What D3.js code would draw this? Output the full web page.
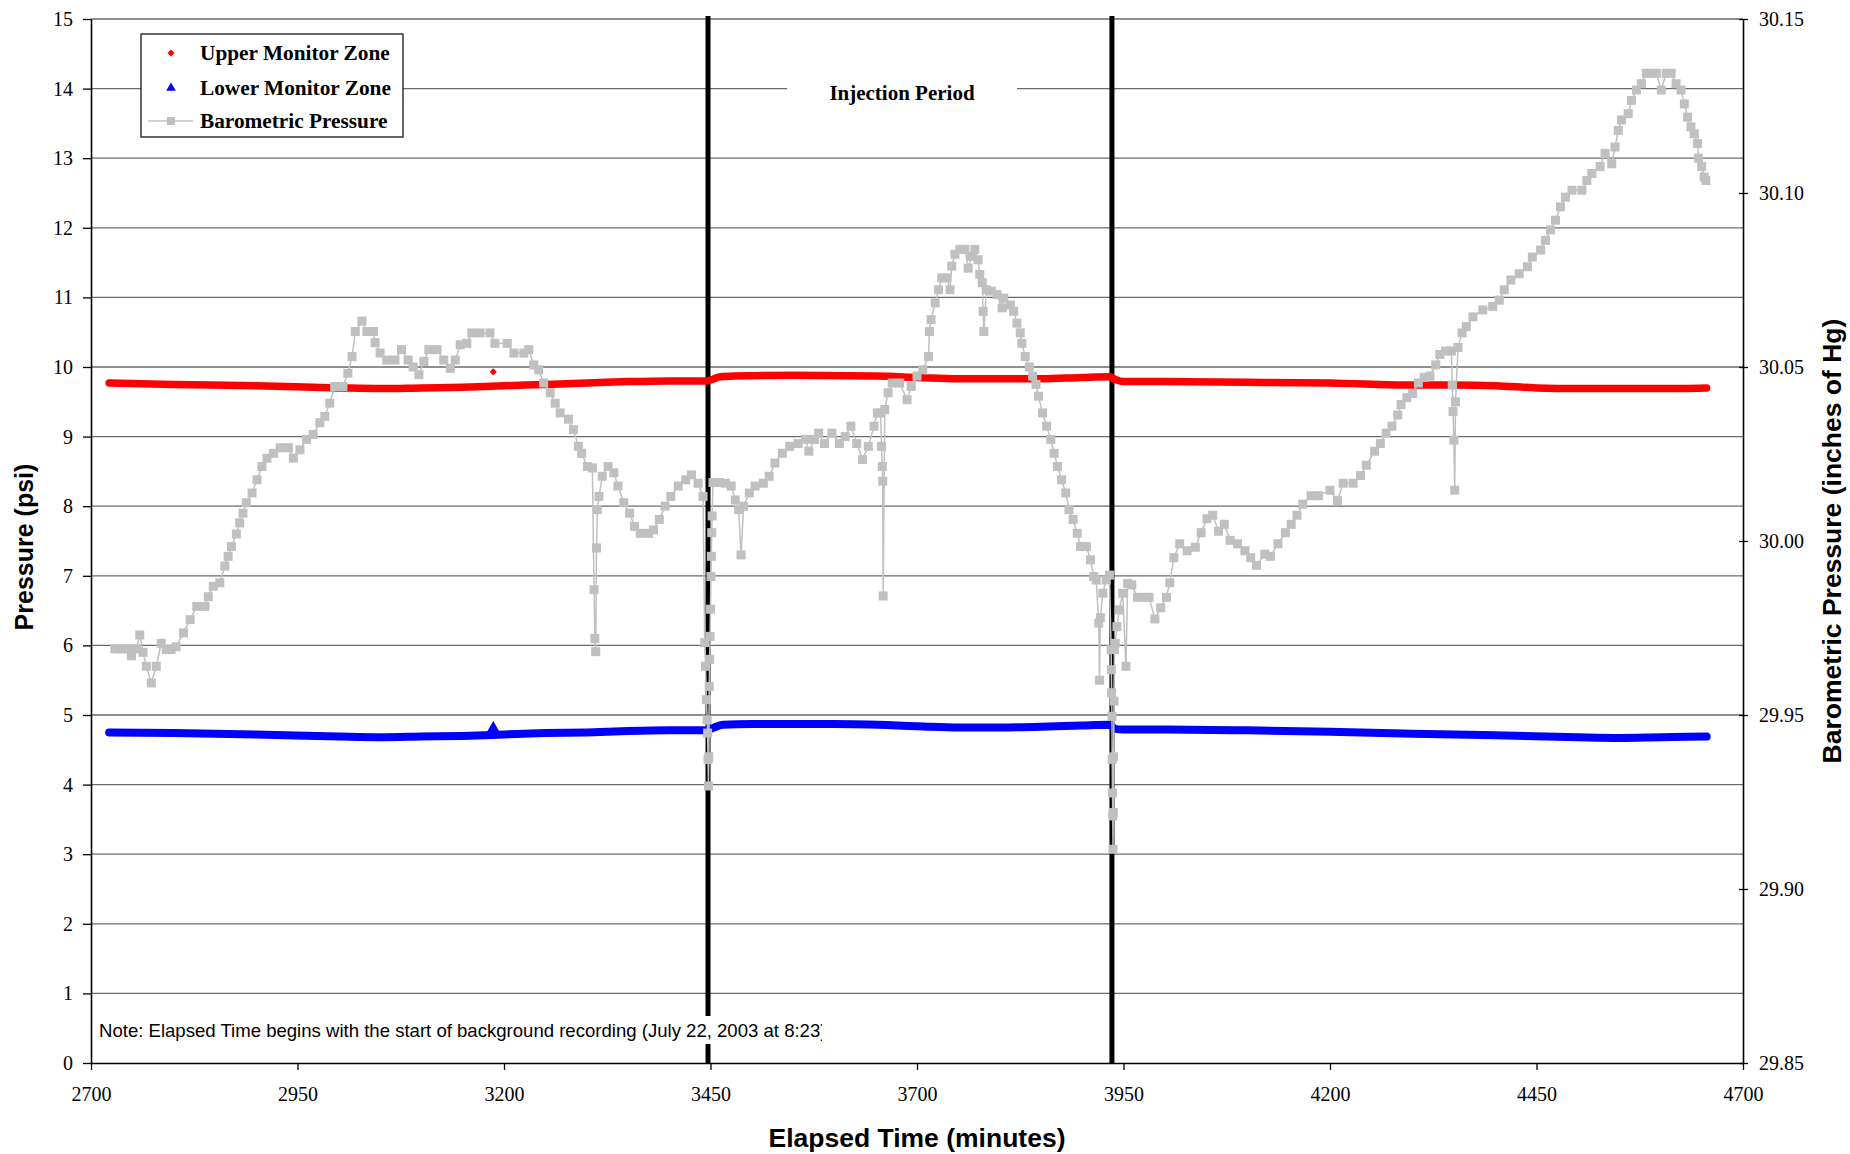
<!DOCTYPE html>
<html>
<head>
<meta charset="utf-8">
<script src="https://cdn.jsdelivr.net/npm/d3@7"></script>
<style>
  body { margin: 0; background: #fff; }
  svg { display: block; }
</style>
</head>
<body>
<script>
// ---- data ----
const xTicks = [2700, 2950, 3200, 3450, 3700, 3950, 4200, 4450, 4700];
const yLeftTicks = [0, 1, 2, 3, 4, 5, 6, 7, 8, 9, 10, 11, 12, 13, 14, 15];
const yRightTicks = [29.85, 29.90, 29.95, 30.00, 30.05, 30.10, 30.15];
const periodMarks = [3447, 3936];

// [elapsed minutes, psi]
const upperZone = [
  [2722, 9.77], [2800, 9.75], [2900, 9.73], [3000, 9.70], [3050, 9.69], [3100, 9.70],
  [3150, 9.71], [3200, 9.73], [3250, 9.75], [3300, 9.77], [3350, 9.79], [3400, 9.80],
  [3445, 9.80], [3452, 9.82], [3462, 9.86], [3480, 9.87], [3550, 9.88], [3650, 9.87],
  [3700, 9.85], [3750, 9.83], [3800, 9.83], [3850, 9.83], [3900, 9.85], [3933, 9.86],
  [3940, 9.82], [3950, 9.79], [4000, 9.79], [4100, 9.78], [4200, 9.77], [4300, 9.74],
  [4350, 9.74], [4400, 9.73], [4450, 9.70], [4500, 9.69], [4550, 9.69], [4600, 9.69],
  [4656, 9.70]
];
const upperOutlier = [[3187, 9.93]];

const lowerZone = [
  [2722, 4.75], [2800, 4.74], [2900, 4.72], [3000, 4.69], [3050, 4.68], [3100, 4.69],
  [3150, 4.70], [3200, 4.72], [3250, 4.74], [3300, 4.75], [3350, 4.77], [3400, 4.78],
  [3445, 4.78], [3452, 4.81], [3465, 4.86], [3500, 4.87], [3600, 4.87], [3700, 4.84],
  [3750, 4.82], [3800, 4.82], [3850, 4.83], [3900, 4.85], [3933, 4.86], [3940, 4.80],
  [3950, 4.79], [4000, 4.79], [4100, 4.78], [4200, 4.76], [4300, 4.73], [4400, 4.71],
  [4500, 4.68], [4550, 4.67], [4600, 4.68], [4656, 4.69]
];
const lowerOutlier = [[3187, 4.80]];

// [elapsed minutes, inches of Hg]
const barometric = [
  [2729, 29.969], [2737, 29.969], [2745, 29.969], [2749, 29.967], [2755, 29.969], [2759, 29.973],
  [2763, 29.968], [2767, 29.964], [2773, 29.9592], [2779, 29.964], [2785, 29.9706], [2791, 29.9688],
  [2797, 29.9688], [2803, 29.9696], [2812, 29.9736], [2820, 29.9774], [2828, 29.9812], [2838, 29.9812],
  [2842, 29.984], [2848, 29.987], [2856, 29.988], [2862, 29.9928], [2866, 29.9956], [2870, 29.9984],
  [2876, 30.002], [2880, 30.0052], [2884, 30.008], [2888, 30.011], [2895, 30.0138], [2901, 30.0176],
  [2907, 30.0214], [2913, 30.0238], [2921, 30.0252], [2929, 30.0268], [2939, 30.0268], [2945, 30.0238],
  [2953, 30.0262], [2961, 30.0292], [2969, 30.0306], [2977, 30.034], [2983, 30.0358], [2989, 30.0396],
  [2995, 30.0444], [3005, 30.0444], [3011, 30.0482], [3016, 30.053], [3020, 30.0602], [3028, 30.0632],
  [3034, 30.0602], [3042, 30.0602], [3044, 30.057], [3050, 30.054], [3058, 30.052], [3068, 30.052],
  [3076, 30.055], [3084, 30.052], [3090, 30.05], [3097, 30.0478], [3103, 30.0516], [3109, 30.055],
  [3119, 30.055], [3127, 30.052], [3135, 30.0496], [3141, 30.052], [3147, 30.0564], [3155, 30.0568],
  [3161, 30.0598], [3171, 30.0598], [3183, 30.0598], [3189, 30.0568], [3204, 30.0568], [3212, 30.054],
  [3224, 30.054], [3230, 30.055], [3236, 30.0506], [3242, 30.0492], [3248, 30.0454], [3256, 30.0426],
  [3262, 30.0396], [3268, 30.0368], [3278, 30.035], [3284, 30.032], [3290, 30.0272], [3294, 30.0252],
  [3301, 30.0214], [3307, 30.021], [3309, 29.986], [3310, 29.972], [3311, 29.9682], [3312, 29.998],
  [3313, 30.009], [3315, 30.0128], [3319, 30.0186], [3326, 30.0214], [3333, 30.0196], [3338, 30.0158],
  [3345, 30.011], [3352, 30.008], [3358, 30.0042], [3365, 30.0022], [3375, 30.0022], [3381, 30.0032],
  [3388, 30.0062], [3395, 30.01], [3402, 30.0128], [3411, 30.0158], [3420, 30.0176], [3427, 30.019],
  [3435, 30.0166], [3441, 30.0128], [3443, 29.9708], [3444, 29.964], [3445, 29.9544], [3446, 29.9486],
  [3446.5, 29.9448], [3447, 29.9372], [3447.5, 29.9296], [3448, 29.938], [3448.5, 29.9582], [3449, 29.966],
  [3449.5, 29.9726], [3450, 29.9804], [3450.5, 29.9898], [3451, 29.9956], [3451.5, 30.0024], [3452, 30.0072],
  [3453, 30.0168], [3461, 30.0168], [3468, 30.0166], [3475, 30.0158], [3480, 30.0118], [3484, 30.009],
  [3487, 29.996], [3490, 30.01], [3497, 30.0138], [3504, 30.0158], [3514, 30.0166], [3521, 30.0186],
  [3528, 30.0224], [3537, 30.0252], [3546, 30.0272], [3556, 30.028], [3565, 30.0292], [3569, 30.0258],
  [3576, 30.0292], [3581, 30.031], [3588, 30.028], [3597, 30.031], [3606, 30.028], [3613, 30.03],
  [3620, 30.033], [3627, 30.028], [3634, 30.0234], [3641, 30.0272], [3648, 30.033], [3652, 30.0368],
  [3656, 30.0368], [3657, 30.0272], [3658, 30.0214], [3658.5, 30.0172], [3659, 29.9842], [3661, 30.0378],
  [3665, 30.0426], [3670, 30.0454], [3679, 30.0454], [3688, 30.0406], [3693, 30.0444], [3700, 30.0474],
  [3707, 30.0492], [3714, 30.053], [3715, 30.0602], [3717, 30.0636], [3722, 30.0684], [3726, 30.0722],
  [3730, 30.0756], [3736, 30.0756], [3740, 30.0722], [3742, 30.079], [3746, 30.0824], [3752, 30.0838],
  [3758, 30.0838], [3762, 30.0784], [3766, 30.0818], [3770, 30.0838], [3774, 30.0808], [3776, 30.0766],
  [3779, 30.0742], [3780, 30.066], [3781, 30.0602], [3784, 30.0722], [3790, 30.0718], [3797, 30.0708],
  [3803, 30.067], [3805, 30.0698], [3813, 30.0678], [3817, 30.066], [3821, 30.0626], [3825, 30.0598],
  [3827, 30.0568], [3831, 30.053], [3836, 30.05], [3840, 30.0474], [3844, 30.045], [3847, 30.0416],
  [3852, 30.0368], [3857, 30.033], [3862, 30.0292], [3866, 30.0252], [3870, 30.0214], [3875, 30.0176],
  [3880, 30.0138], [3884, 30.009], [3889, 30.0062], [3894, 30.0022], [3898, 29.9984], [3905, 29.9984],
  [3910, 29.9946], [3914, 29.9898], [3917, 29.9888], [3920, 29.9764], [3921, 29.96], [3922, 29.978],
  [3925, 29.985], [3929, 29.9888], [3933, 29.9902], [3935, 29.9688], [3935.3, 29.963], [3935.6, 29.9564],
  [3936, 29.9496], [3936.3, 29.9372], [3936.6, 29.9276], [3937, 29.921], [3937.3, 29.9114], [3937.6, 29.922],
  [3938, 29.938], [3938.5, 29.954], [3939, 29.9688], [3940, 29.9706], [3942, 29.9754], [3945, 29.9802],
  [3949, 29.985], [3953, 29.964], [3955, 29.9878], [3960, 29.9874], [3967, 29.9838], [3976, 29.9838],
  [3981, 29.9838], [3988, 29.9776], [3995, 29.9808], [4002, 29.9838], [4006, 29.988], [4011, 29.9952],
  [4018, 29.9992], [4027, 29.9972], [4037, 29.9982], [4044, 30.0024], [4051, 30.0064], [4058, 30.0074],
  [4065, 30.0028], [4072, 30.0048], [4079, 30.0002], [4088, 29.9992], [4097, 29.9972], [4104, 29.9952],
  [4111, 29.993], [4121, 29.9962], [4128, 29.9956], [4137, 29.9992], [4146, 30.0024], [4153, 30.0048],
  [4160, 30.0074], [4167, 30.0106], [4177, 30.013], [4186, 30.013], [4200, 30.0146], [4209, 30.0116],
  [4216, 30.0166], [4228, 30.0166], [4237, 30.0188], [4244, 30.0218], [4254, 30.0258], [4261, 30.028],
  [4268, 30.031], [4275, 30.033], [4282, 30.0362], [4286, 30.0392], [4293, 30.0412], [4300, 30.0424],
  [4307, 30.0454], [4314, 30.047], [4321, 30.0474], [4328, 30.0506], [4333, 30.0536], [4340, 30.0546],
  [4347, 30.0546], [4348, 30.0448], [4349, 30.0372], [4350, 30.029], [4351, 30.0146], [4352, 30.04],
  [4355, 30.0556], [4360, 30.0598], [4365, 30.0616], [4373, 30.0644], [4385, 30.0664], [4397, 30.0674],
  [4405, 30.0692], [4411, 30.0722], [4419, 30.075], [4429, 30.0768], [4439, 30.0788], [4445, 30.0816],
  [4455, 30.0836], [4461, 30.0864], [4467, 30.0894], [4473, 30.0922], [4479, 30.096], [4485, 30.0988],
  [4493, 30.1008], [4505, 30.1008], [4511, 30.1036], [4517, 30.1056], [4527, 30.1076], [4533, 30.1114],
  [4541, 30.1084], [4545, 30.1132], [4549, 30.118], [4553, 30.121], [4561, 30.1228], [4565, 30.1266],
  [4571, 30.1296], [4577, 30.1314], [4583, 30.1344], [4589, 30.1344], [4595, 30.1344], [4601, 30.1296],
  [4607, 30.1344], [4613, 30.1344], [4619, 30.1314], [4625, 30.1296], [4629, 30.1256], [4633, 30.1218],
  [4637, 30.119], [4641, 30.117], [4645, 30.1142], [4646, 30.11], [4650, 30.1076], [4653, 30.1046],
  [4655, 30.1036]
];

const legendItems = ["Upper Monitor Zone", "Lower Monitor Zone", "Barometric Pressure"];
const noteText = "Note: Elapsed Time begins with the start of background recording (July 22, 2003 at 8:23)";

// ---- layout ----
const W = 1850, H = 1154;
const plotL = 91, plotR = 1743, plotT = 19, plotB = 1063;
const serif = "'Liberation Serif', 'Times New Roman', serif";
const sans = "'Liberation Sans', Arial, sans-serif";
const grey = "#c0c0c0";

const svg = d3.select("body").append("svg")
  .attr("width", W)
  .attr("height", H);

const x = d3.scaleLinear().domain([2700, 4700]).range([plotL, plotR]);
const yL = d3.scaleLinear().domain([0, 15]).range([plotB, plotT]);
const yR = d3.scaleLinear().domain([29.85, 30.15]).range([plotB, plotT]);

// gridlines
svg.append("g")
  .selectAll("line")
  .data(yLeftTicks.filter(d => d > 0))
  .join("line")
  .attr("x1", plotL).attr("x2", plotR)
  .attr("y1", d => yL(d)).attr("y2", d => yL(d))
  .attr("stroke", "#6a6a6a")
  .attr("stroke-width", 1.3);

// injection period bounds
svg.append("g")
  .selectAll("line")
  .data(periodMarks)
  .join("line")
  .attr("x1", d => x(d)).attr("x2", d => x(d))
  .attr("y1", plotT - 3).attr("y2", plotB)
  .attr("stroke", "#000")
  .attr("stroke-width", 5);

// upper / lower monitor zones
const psiLine = d3.line()
  .x(d => x(d[0]))
  .y(d => yL(d[1]))
  .curve(d3.curveMonotoneX);

svg.append("path")
  .datum(upperZone)
  .attr("d", psiLine)
  .attr("fill", "none")
  .attr("stroke", "#ff0000")
  .attr("stroke-width", 7.5)
  .attr("stroke-linecap", "round");

svg.append("g")
  .selectAll("path")
  .data(upperOutlier)
  .join("path")
  .attr("d", d3.symbol(d3.symbolSquare, 26))
  .attr("transform", d => `translate(${x(d[0])},${yL(d[1])}) rotate(45)`)
  .attr("fill", "#ff0000");

svg.append("path")
  .datum(lowerZone)
  .attr("d", psiLine)
  .attr("fill", "none")
  .attr("stroke", "#0000ff")
  .attr("stroke-width", 8)
  .attr("stroke-linecap", "round");

svg.append("g")
  .selectAll("path")
  .data(lowerOutlier)
  .join("path")
  .attr("d", d3.symbol(d3.symbolTriangle, 80))
  .attr("transform", d => `translate(${x(d[0])},${yL(d[1])})`)
  .attr("fill", "#0000ff");

// barometric pressure (right axis)
svg.append("path")
  .datum(barometric)
  .attr("d", d3.line().x(d => x(d[0])).y(d => yR(d[1])))
  .attr("fill", "none")
  .attr("stroke", grey)
  .attr("stroke-width", 1.5);

svg.append("g")
  .selectAll("rect")
  .data(barometric)
  .join("rect")
  .attr("x", d => x(d[0]) - 4.5)
  .attr("y", d => yR(d[1]) - 4.5)
  .attr("width", 9)
  .attr("height", 9)
  .attr("fill", grey);

// axes
const gLeft = svg.append("g")
  .attr("transform", `translate(${plotL},0)`)
  .call(d3.axisLeft(yL).tickValues(yLeftTicks).tickSize(8).tickPadding(10).tickSizeOuter(0));

const gBottom = svg.append("g")
  .attr("transform", `translate(0,${plotB})`)
  .call(d3.axisBottom(x).tickValues(xTicks).tickFormat(d3.format("d"))
    .tickSize(7).tickPadding(17).tickSizeOuter(0));

const gRight = svg.append("g")
  .attr("transform", `translate(${plotR},0)`)
  .call(d3.axisRight(yR).tickValues(yRightTicks).tickFormat(d3.format(".2f"))
    .tickSize(5).tickPadding(11).tickSizeOuter(0));
gRight.selectAll(".tick line").attr("x1", -4);

[gLeft, gBottom, gRight].forEach(g => {
  g.attr("font-family", serif).attr("font-size", 20);
  g.selectAll("text").attr("fill", "#000");
  g.selectAll("line").attr("stroke", "#000").attr("stroke-width", 1.3);
  g.select(".domain").attr("stroke", "#000").attr("stroke-width", 1.6);
});

// axis titles
svg.append("text")
  .attr("transform", `translate(24,547) rotate(-90)`)
  .attr("text-anchor", "middle")
  .attr("dy", "0.35em")
  .attr("font-family", sans).attr("font-weight", "bold").attr("font-size", 25)
  .text("Pressure (psi)");

svg.append("text")
  .attr("transform", `translate(1832,${(plotT + plotB) / 2}) rotate(-90)`)
  .attr("text-anchor", "middle")
  .attr("dy", "0.35em")
  .attr("font-family", sans).attr("font-weight", "bold").attr("font-size", 26.5)
  .text("Barometric Pressure (inches of Hg)");

svg.append("text")
  .attr("x", (plotL + plotR) / 2)
  .attr("y", 1138)
  .attr("text-anchor", "middle")
  .attr("dy", "0.35em")
  .attr("font-family", sans).attr("font-weight", "bold").attr("font-size", 26.5)
  .text("Elapsed Time (minutes)");

// injection period label
svg.append("rect")
  .attr("x", 787).attr("y", 72).attr("width", 230).attr("height", 34)
  .attr("fill", "#fff");
svg.append("text")
  .attr("x", 902).attr("y", 93)
  .attr("dy", "0.35em")
  .attr("text-anchor", "middle")
  .attr("font-family", serif).attr("font-weight", "bold").attr("font-size", 21)
  .text("Injection Period");

// note box (text is clipped at the right edge like the original)
svg.append("clipPath").attr("id", "noteClip")
  .append("rect").attr("x", 95).attr("y", 1012).attr("width", 727).attr("height", 36);
svg.append("rect")
  .attr("x", 95).attr("y", 1016).attr("width", 727).attr("height", 28)
  .attr("fill", "#fff");
const note = svg.append("text")
  .attr("clip-path", "url(#noteClip)")
  .attr("x", 99).attr("y", 1030)
  .attr("dy", "0.35em")
  .attr("font-family", sans).attr("font-size", 17)
  .text(noteText);
const noteLen = note.node().getComputedTextLength();
note.attr("font-size", 17 * 728 / noteLen);

// legend
const legend = svg.append("g");
legend.append("rect")
  .attr("x", 141).attr("y", 34).attr("width", 262).attr("height", 103)
  .attr("fill", "#fff").attr("stroke", "#000").attr("stroke-width", 1.2);

const rowY = [53, 88, 121];
legend.append("path")
  .attr("d", d3.symbol(d3.symbolSquare, 26))
  .attr("transform", `translate(171,${rowY[0]}) rotate(45)`)
  .attr("fill", "#ff0000");
legend.append("path")
  .attr("d", d3.symbol(d3.symbolTriangle, 40))
  .attr("transform", `translate(171,${rowY[1]})`)
  .attr("fill", "#0000ff");
legend.append("line")
  .attr("x1", 148).attr("x2", 193)
  .attr("y1", rowY[2]).attr("y2", rowY[2])
  .attr("stroke", grey).attr("stroke-width", 1.5);
legend.append("rect")
  .attr("x", 167).attr("y", rowY[2] - 4).attr("width", 8).attr("height", 8)
  .attr("fill", grey);

legend.selectAll("text")
  .data(legendItems)
  .join("text")
  .attr("x", 200)
  .attr("y", (d, i) => rowY[i])
  .attr("dy", "0.35em")
  .attr("font-family", serif).attr("font-weight", "bold").attr("font-size", 21.3)
  .text(d => d);
</script>
</body>
</html>
